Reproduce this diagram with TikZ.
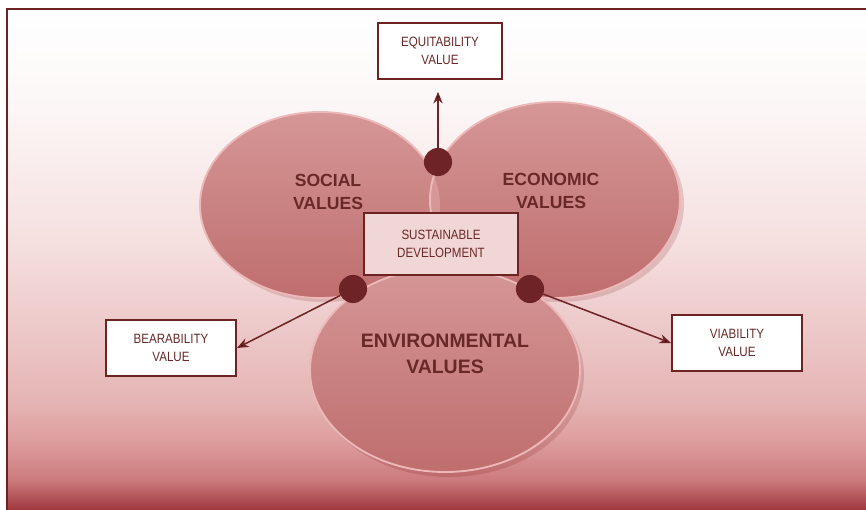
\documentclass[tikz,border=0pt]{standalone}
\usepackage{fontspec}
\setmainfont{Liberation Sans}
\newfontfamily\boxfont[FakeStretch=0.86]{Liberation Sans}
\usetikzlibrary{positioning, calc, arrows.meta, shapes.geometric}

\definecolor{frameRed}{RGB}{110,35,35}
\definecolor{lblRed}{RGB}{105,40,40}
\definecolor{sdFill}{RGB}{241,214,214}
\definecolor{rimPink}{RGB}{236,184,184}
\definecolor{dotRed}{RGB}{110,35,38}

% shading is fitted into 25bp..75bp
\pgfdeclareverticalshading{bgshade}{100bp}{%
  rgb(0bp)=(0.60,0.20,0.22);
  rgb(25bp)=(0.62,0.22,0.24);
  rgb(28bp)=(0.80,0.48,0.49);
  rgb(32bp)=(0.87,0.62,0.62);
  rgb(36bp)=(0.90,0.71,0.71);
  rgb(51bp)=(0.96,0.87,0.87);
  rgb(66bp)=(0.99,0.97,0.97);
  rgb(75bp)=(1,1,1);
  rgb(100bp)=(1,1,1)}
\pgfdeclareverticalshading{ellshade}{100bp}{%
  rgb(0bp)=(0.74,0.42,0.42);
  rgb(25bp)=(0.75,0.43,0.43);
  rgb(50bp)=(0.79,0.51,0.51);
  rgb(75bp)=(0.84,0.59,0.59);
  rgb(100bp)=(0.84,0.59,0.59)}

\tikzset{
  valbox/.style={shape=rectangle, draw=frameRed, line width=1.6pt, fill=white,
    align=center, text=lblRed, font=\boxfont\fontsize{11.5}{15}\selectfont},
  valdot/.style={shape=circle, fill=dotRed, inner sep=0pt, minimum size=24},
  valring/.style={draw=rimPink, line width=1.6pt, shading=ellshade},
  vallabel/.style={align=center, text=lblRed, font=\bfseries\fontsize{15}{20}\selectfont},
  valarrow/.style={-{Stealth[length=10pt,width=8pt]}, draw=dotRed, line width=1.3pt}
}

\begin{document}
\begin{tikzpicture}[x=0.03cm, y=-0.03cm]
	\useasboundingbox (0,0) rectangle (866,510);
	\shade[shading=bgshade] (7,9) rectangle (866,510);
	\draw[frameRed, line width=1.5pt] (7,515) -- (7,9) -- (870,9);

	% the three value circles
	\fill[black!60!red, opacity=0.15] (324,209) ellipse (120 and 93);
	\fill[black!60!red, opacity=0.15] (559,204) ellipse (125 and 98);
	\draw[valring] (320,205) ellipse (120 and 93);
	\draw[valring] (555,200) ellipse (125 and 98);
	\begin{scope}
		\clip (320,205) ellipse (120 and 93);
		\fill[rimPink, opacity=0.4] (555,200) ellipse (125 and 98);
	\end{scope}
	\fill[black!60!red, opacity=0.15] (449,375) ellipse (135 and 102);
	\draw[valring] (445,370) ellipse (135 and 102);

	\node[vallabel] (social) at (328,192) {SOCIAL\\VALUES};
	\node[vallabel] (econ) at (551,191) {ECONOMIC\\VALUES};
	\node[vallabel, font=\bfseries\fontsize{16.6}{22}\selectfont] (env) at (445,354) {ENVIRONMENTAL\\VALUES};

	% boxes
	\node[valbox, minimum width=106, minimum height=48] (equit) at (440,51) {EQUITABILITY\\VALUE};
	\node[valbox, fill=sdFill, minimum width=131, minimum height=53] (sustdev) at (441,244) {SUSTAINABLE\\DEVELOPMENT};
	\node[valbox, minimum width=111, minimum height=48] (bear) at (171,348) {BEARABILITY\\VALUE};
	\node[valbox, minimum width=111, minimum height=48] (viab) at (737,343) {VIABILITY\\VALUE};

	% junction dots
	\node[valdot] (dEquit) at (438,162) {};
	\node[valdot] (dBear) at (353,289) {};
	\node[valdot] (dViab) at (530,289) {};

	\path[valarrow] (dEquit) edge[shorten >=10] (equit.south -| dEquit);
	\path[valarrow] (dBear) edge (bear.east);
	\path[valarrow] (dViab) edge (viab.west);
\end{tikzpicture}
\end{document}
